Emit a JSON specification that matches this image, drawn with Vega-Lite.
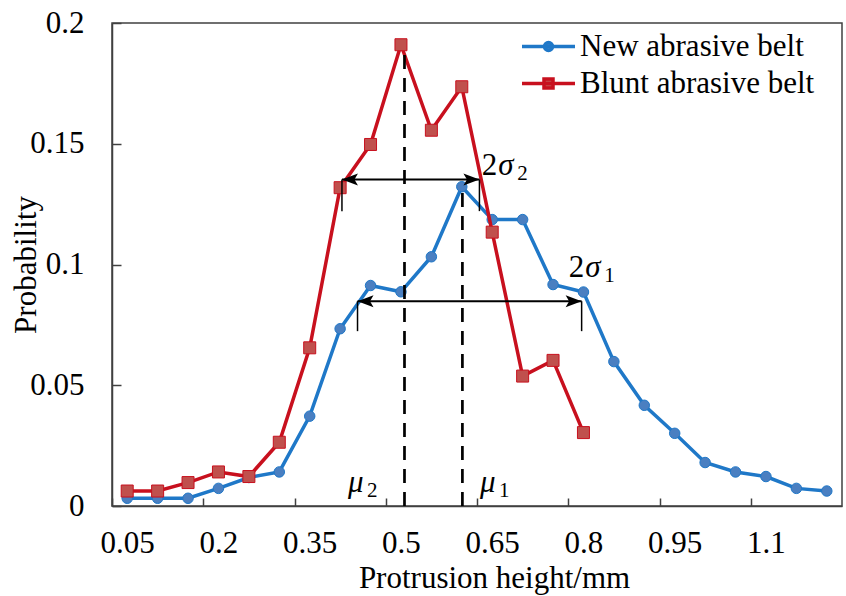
{
  "$schema": "https://vega.github.io/schema/vega-lite/v6.json",
  "width": 730,
  "height": 483,
  "autosize": {"type": "none"},
  "padding": {"left": 112, "top": 23, "right": 4, "bottom": 90},
  "background": "white",
  "config": {
    "view": {"stroke": "#404040", "strokeWidth": 1.5},
    "font": "Liberation Serif, Times New Roman, serif",
    "axis": {
      "labelFontSize": 31,
      "titleFontSize": 31,
      "titleFontWeight": "normal",
      "labelColor": "black",
      "titleColor": "black",
      "domainColor": "#404040",
      "tickColor": "#404040",
      "domainWidth": 1.5,
      "tickWidth": 1.5,
      "grid": false,
      "labelFlush": false,
      "labelOverlap": false
    }
  },
  "datasets": {
    "series": [
      {"height": 0.05, "prob": 0.0032, "series": "New abrasive belt"},
      {"height": 0.10, "prob": 0.0032, "series": "New abrasive belt"},
      {"height": 0.15, "prob": 0.0032, "series": "New abrasive belt"},
      {"height": 0.20, "prob": 0.0073, "series": "New abrasive belt"},
      {"height": 0.25, "prob": 0.0118, "series": "New abrasive belt"},
      {"height": 0.30, "prob": 0.0141, "series": "New abrasive belt"},
      {"height": 0.35, "prob": 0.0372, "series": "New abrasive belt"},
      {"height": 0.40, "prob": 0.0734, "series": "New abrasive belt"},
      {"height": 0.45, "prob": 0.0913, "series": "New abrasive belt"},
      {"height": 0.50, "prob": 0.0887, "series": "New abrasive belt"},
      {"height": 0.55, "prob": 0.1032, "series": "New abrasive belt"},
      {"height": 0.60, "prob": 0.1322, "series": "New abrasive belt"},
      {"height": 0.65, "prob": 0.1186, "series": "New abrasive belt"},
      {"height": 0.70, "prob": 0.1186, "series": "New abrasive belt"},
      {"height": 0.75, "prob": 0.0917, "series": "New abrasive belt"},
      {"height": 0.80, "prob": 0.0886, "series": "New abrasive belt"},
      {"height": 0.85, "prob": 0.0598, "series": "New abrasive belt"},
      {"height": 0.90, "prob": 0.0417, "series": "New abrasive belt"},
      {"height": 0.95, "prob": 0.0301, "series": "New abrasive belt"},
      {"height": 1.00, "prob": 0.0180, "series": "New abrasive belt"},
      {"height": 1.05, "prob": 0.0141, "series": "New abrasive belt"},
      {"height": 1.10, "prob": 0.0122, "series": "New abrasive belt"},
      {"height": 1.15, "prob": 0.0073, "series": "New abrasive belt"},
      {"height": 1.20, "prob": 0.0062, "series": "New abrasive belt"},
      {"height": 0.05, "prob": 0.0062, "series": "Blunt abrasive belt"},
      {"height": 0.10, "prob": 0.0062, "series": "Blunt abrasive belt"},
      {"height": 0.15, "prob": 0.0097, "series": "Blunt abrasive belt"},
      {"height": 0.20, "prob": 0.0141, "series": "Blunt abrasive belt"},
      {"height": 0.25, "prob": 0.0122, "series": "Blunt abrasive belt"},
      {"height": 0.30, "prob": 0.0264, "series": "Blunt abrasive belt"},
      {"height": 0.35, "prob": 0.0655, "series": "Blunt abrasive belt"},
      {"height": 0.40, "prob": 0.1318, "series": "Blunt abrasive belt"},
      {"height": 0.45, "prob": 0.1497, "series": "Blunt abrasive belt"},
      {"height": 0.50, "prob": 0.1910, "series": "Blunt abrasive belt"},
      {"height": 0.55, "prob": 0.1556, "series": "Blunt abrasive belt"},
      {"height": 0.60, "prob": 0.1736, "series": "Blunt abrasive belt"},
      {"height": 0.65, "prob": 0.1134, "series": "Blunt abrasive belt"},
      {"height": 0.70, "prob": 0.0538, "series": "Blunt abrasive belt"},
      {"height": 0.75, "prob": 0.0603, "series": "Blunt abrasive belt"},
      {"height": 0.80, "prob": 0.0304, "series": "Blunt abrasive belt"}
    ],
    "mu": [
      {"x": 0.5058, "bottom": 0, "top": 0.19},
      {"x": 0.601, "bottom": 0, "top": 0.132}
    ],
    "arrows": [
      {"name": "2σ2", "x1": 0.403, "x2": 0.629, "y": 0.1352, "yb": 0.1221},
      {"name": "2σ1", "x1": 0.4286, "x2": 0.797, "y": 0.0848, "yb": 0.0724}
    ],
    "annot": [
      {"x": 0.66, "y": 0.1372, "pre": "2", "sym": "σ", "sub": "2"},
      {"x": 0.803, "y": 0.095, "pre": "2", "sym": "σ", "sub": "1"},
      {"x": 0.413, "y": 0.0057, "pre": "", "sym": "μ", "sub": "2"},
      {"x": 0.63, "y": 0.0057, "pre": "", "sym": "μ", "sub": "1"}
    ]
  },
  "layer": [
    {
      "data": {"name": "series"},
      "transform": [{"filter": "datum.series === 'New abrasive belt'"}],
      "mark": {"type": "line", "strokeWidth": 3.5},
      "encoding": {
        "x": {
          "field": "height", "type": "quantitative",
          "scale": {"domain": [0.025, 1.225], "nice": false, "zero": false},
          "axis": {
            "values": [0.05, 0.2, 0.35, 0.5, 0.65, 0.8, 0.95, 1.1],
            "format": "~g",
            "labelFont": "Liberation Serif, Times New Roman, serif",
            "titleFont": "Liberation Serif, Times New Roman, serif",
            "tickOffset": -15.2,
            "labelOffset": 15.2,
            "tickSize": -8,
            "labelPadding": 30,
            "title": "Protrusion height/mm",
            "titleX": 382,
            "titleAlign": "center",
            "titleY": 81,
            "titleBaseline": "alphabetic"
          }
        },
        "y": {
          "field": "prob", "type": "quantitative",
          "scale": {"domain": [0, 0.2], "nice": false},
          "axis": {
            "values": [0, 0.05, 0.1, 0.15, 0.2],
            "format": "~g",
            "labelFont": "Liberation Serif, Times New Roman, serif",
            "titleFont": "Liberation Serif, Times New Roman, serif",
            "tickSize": -9,
            "labelPadding": 37,
            "title": "Probability",
            "titleAngle": -90,
            "titleX": -86,
            "titleY": 241.5,
            "titleAlign": "center",
            "titleBaseline": "middle"
          }
        },
        "color": {
          "field": "series", "type": "nominal",
          "scale": {"domain": ["New abrasive belt", "Blunt abrasive belt"], "range": ["#1f78c8", "#c8101e"]},
          "legend": {
            "title": null,
            "orient": "none",
            "legendX": 421,
            "legendY": 8,
            "padding": 0,
            "labelFont": "Liberation Serif, Times New Roman, serif",
            "labelFontSize": 31,
            "labelColor": "black",
            "labelLimit": 400,
            "symbolSize": 100,
            "symbolStrokeWidth": 3.5,
            "labelOffset": 16,
            "rowPadding": 5,
            "encode": {
              "symbols": {
                "update": {
                  "shape": {"signal": "datum.value === 'New abrasive belt' ? 'M-5.3,0L5.3,0M-0.8,0A0.8,0.8,0,1,1,0.8,0A0.8,0.8,0,1,1,-0.8,0Z' : 'M-5.3,0L5.3,0M-0.9,-0.9L0.9,-0.9L0.9,0.9L-0.9,0.9Z'"},
                  "fill": {"signal": "datum.value === 'New abrasive belt' ? '#4a7fc1' : '#c0504d'"},
                  "opacity": {"value": 1}
                }
              }
            }
          }
        }
      }
    },
    {
      "data": {"name": "series"},
      "transform": [{"filter": "datum.series === 'New abrasive belt'"}],
      "mark": {"type": "point", "shape": "circle", "filled": true, "size": 110, "fill": "#4a7fc1", "stroke": "#1f78c8", "strokeWidth": 1, "opacity": 1},
      "encoding": {
        "x": {"field": "height", "type": "quantitative"},
        "y": {"field": "prob", "type": "quantitative"}
      }
    },
    {
      "data": {"name": "series"},
      "transform": [{"filter": "datum.series === 'Blunt abrasive belt'"}],
      "mark": {"type": "line", "strokeWidth": 3.5},
      "encoding": {
        "x": {"field": "height", "type": "quantitative"},
        "y": {"field": "prob", "type": "quantitative"},
        "color": {"field": "series", "type": "nominal"}
      }
    },
    {
      "data": {"name": "series"},
      "transform": [{"filter": "datum.series === 'Blunt abrasive belt'"}],
      "mark": {"type": "point", "shape": "square", "filled": true, "size": 144, "fill": "#c0504d", "stroke": "#c8101e", "strokeWidth": 1, "opacity": 1},
      "encoding": {
        "x": {"field": "height", "type": "quantitative"},
        "y": {"field": "prob", "type": "quantitative"}
      }
    },
    {
      "data": {"name": "mu"},
      "mark": {"type": "rule", "color": "black", "strokeWidth": 2.7, "strokeDash": [14, 9]},
      "encoding": {
        "x": {"field": "x", "type": "quantitative"},
        "y": {"field": "bottom", "type": "quantitative"},
        "y2": {"field": "top"}
      }
    },
    {
      "data": {"name": "arrows"},
      "mark": {"type": "rule", "color": "black", "strokeWidth": 2},
      "encoding": {
        "x": {"field": "x1", "type": "quantitative"},
        "x2": {"field": "x2"},
        "y": {"field": "y", "type": "quantitative"}
      }
    },
    {
      "data": {"name": "arrows"},
      "mark": {"type": "rule", "color": "black", "strokeWidth": 1.5},
      "encoding": {
        "x": {"field": "x1", "type": "quantitative"},
        "y": {"field": "y", "type": "quantitative"},
        "y2": {"field": "yb"}
      }
    },
    {
      "data": {"name": "arrows"},
      "mark": {"type": "rule", "color": "black", "strokeWidth": 1.5},
      "encoding": {
        "x": {"field": "x2", "type": "quantitative"},
        "y": {"field": "y", "type": "quantitative"},
        "y2": {"field": "yb"}
      }
    },
    {
      "data": {"name": "arrows"},
      "mark": {"type": "point", "shape": "M0,0L1.6,-0.6L1.25,0L1.6,0.6Z", "size": 400, "filled": true, "color": "black", "opacity": 1, "strokeWidth": 0},
      "encoding": {
        "x": {"field": "x1", "type": "quantitative"},
        "y": {"field": "y", "type": "quantitative"}
      }
    },
    {
      "data": {"name": "arrows"},
      "mark": {"type": "point", "shape": "M0,0L-1.6,-0.6L-1.25,0L-1.6,0.6Z", "size": 400, "filled": true, "color": "black", "opacity": 1, "strokeWidth": 0},
      "encoding": {
        "x": {"field": "x2", "type": "quantitative"},
        "y": {"field": "y", "type": "quantitative"}
      }
    },
    {
      "data": {"name": "annot"},
      "mark": {"type": "text", "font": "Liberation Serif, Times New Roman, serif", "fontSize": 31, "align": "right", "baseline": "alphabetic", "dx": -1, "color": "black"},
      "encoding": {
        "x": {"field": "x", "type": "quantitative"},
        "y": {"field": "y", "type": "quantitative"},
        "text": {"field": "pre"}
      }
    },
    {
      "data": {"name": "annot"},
      "mark": {"type": "text", "font": "Liberation Serif, Times New Roman, serif", "fontSize": 31, "fontStyle": "italic", "align": "left", "baseline": "alphabetic", "color": "black"},
      "encoding": {
        "x": {"field": "x", "type": "quantitative"},
        "y": {"field": "y", "type": "quantitative"},
        "text": {"field": "sym"}
      }
    },
    {
      "data": {"name": "annot"},
      "mark": {"type": "text", "font": "Liberation Serif, Times New Roman, serif", "fontSize": 21, "align": "left", "baseline": "alphabetic", "dx": 19, "dy": 5, "color": "black"},
      "encoding": {
        "x": {"field": "x", "type": "quantitative"},
        "y": {"field": "y", "type": "quantitative"},
        "text": {"field": "sub"}
      }
    }
  ]
}
